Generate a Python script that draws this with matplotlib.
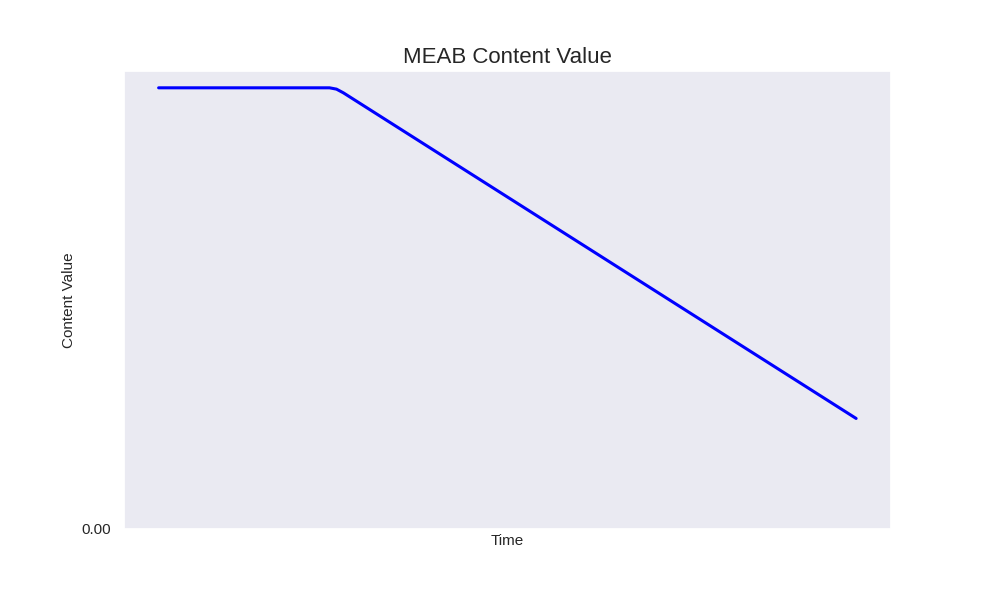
import matplotlib
matplotlib.use("Agg")
import matplotlib.pyplot as plt
import seaborn as sns

sns.set_theme(style="dark")
plt.rcParams['font.family'] = ['Liberation Sans', 'DejaVu Sans']

# content value over time: flat, then steady decay
time = [0, 24.5, 25.5, 26.5, 100]
content = [100, 100, 99.7, 98.85, 25]

fig, ax = plt.subplots(figsize=(9.9, 5.94), dpi=100)
ax.plot(time, content, color='blue', linewidth=2.2)

ax.set_ylim(bottom=0)
ax.set_xticks([])
ax.set_yticks([0])
ax.set_yticklabels(['0.00'], fontsize=11)
ax.tick_params(axis='y', pad=9, length=0)

ax.set_title('MEAB Content Value', fontsize=16)
ax.set_xlabel('Time', fontsize=11)
ax.set_ylabel('Content Value', fontsize=11)

plt.savefig('out.png', dpi=100)
